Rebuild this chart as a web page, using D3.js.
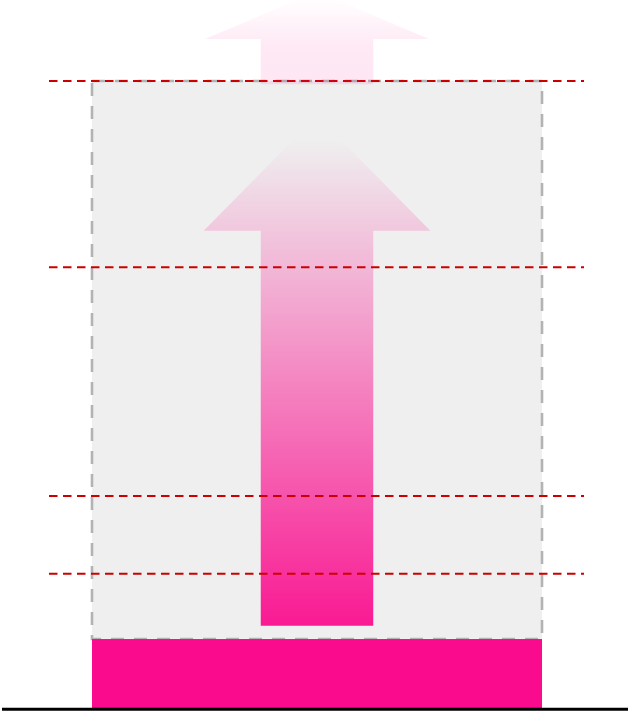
<!DOCTYPE html>
<html>
<head>
<meta charset="utf-8">
<script src="https://cdn.jsdelivr.net/npm/d3@7"></script>
<style>
  html, body { margin: 0; padding: 0; background: #ffffff; }
  svg { display: block; }
</style>
</head>
<body>
<div id="chart"></div>
<script>
// ---- data ----
const categories = ["Current"];
const baseValues = [11.0];            // solid bar
const rangeTop = [100];               // dashed grey range box top
const arrowStart = [13.1];            // main arrow shaft bottom
const arrowHeadBase = [76.1];         // main arrow head base
const arrowEnd = [90.6];              // main arrow top
const ghostStart = [99.5];            // faint arrow shaft bottom
const ghostHeadBase = [106.7];        // faint arrow head base
const ghostEnd = [113.2];             // faint arrow top
const referenceLevels = [100, 70.3, 33.8, 21.4];

// ---- layout ----
const W = 628, H = 711;
const svg = d3.select("#chart").append("svg").attr("width", W).attr("height", H);

const y = d3.scaleLinear().domain([0, 100]).range([708, 81]);
const x = d3.scaleBand().domain(categories).range([92, 542]).padding(0);
const bw = x.bandwidth();

const defs = svg.append("defs");
const g1 = defs.append("linearGradient").attr("id", "arrowGrad")
  .attr("x1", 0).attr("y1", 1).attr("x2", 0).attr("y2", 0);
g1.append("stop").attr("offset", "0%").attr("stop-color", "#fa0a8c").attr("stop-opacity", 0.93);
g1.append("stop").attr("offset", "100%").attr("stop-color", "#fa0a8c").attr("stop-opacity", 0.0);

const g2 = defs.append("linearGradient").attr("id", "ghostGrad")
  .attr("x1", 0).attr("y1", 1).attr("x2", 0).attr("y2", 0);
g2.append("stop").attr("offset", "0%").attr("stop-color", "#fa0a8c").attr("stop-opacity", 0.1);
g2.append("stop").attr("offset", "45%").attr("stop-color", "#fa0a8c").attr("stop-opacity", 0.09);
g2.append("stop").attr("offset", "100%").attr("stop-color", "#fa0a8c").attr("stop-opacity", 0.0);

// range box
svg.selectAll("rect.range").data(categories).join("rect")
  .attr("class", "range")
  .attr("x", d => x(d))
  .attr("y", (d, i) => y(rangeTop[i]))
  .attr("width", bw)
  .attr("height", (d, i) => y(baseValues[i]) - y(rangeTop[i]))
  .attr("fill", "#efefef")
  .attr("stroke", "#b3b3b3")
  .attr("stroke-width", 2.6)
  .attr("stroke-dasharray", "13,10");

// base bar
svg.selectAll("rect.bar").data(categories).join("rect")
  .attr("class", "bar")
  .attr("x", d => x(d))
  .attr("y", (d, i) => y(baseValues[i]))
  .attr("width", bw)
  .attr("height", (d, i) => y(0) - y(baseValues[i]))
  .attr("fill", "#fa0a8c");

// arrow path builder
function arrowPath(cx, yStart, yHeadBase, yTop, shaftHalf, headHalf, topHalf) {
  return [
    [cx - shaftHalf, yStart],
    [cx - shaftHalf, yHeadBase],
    [cx - headHalf, yHeadBase],
    [cx - topHalf, yTop],
    [cx + topHalf, yTop],
    [cx + headHalf, yHeadBase],
    [cx + shaftHalf, yHeadBase],
    [cx + shaftHalf, yStart]
  ];
}
const line = d3.line();

// main arrow
svg.selectAll("path.arrow").data(categories).join("path")
  .attr("class", "arrow")
  .attr("d", (d, i) => {
    const cx = x(d) + bw / 2;
    return line(arrowPath(cx, y(arrowStart[i]), y(arrowHeadBase[i]), y(arrowEnd[i]),
      bw * 0.125, bw * 0.252, bw * 0.053)) + "Z";
  })
  .attr("fill", "url(#arrowGrad)");

// reference lines
svg.selectAll("line.ref").data(referenceLevels).join("line")
  .attr("class", "ref")
  .attr("x1", 49).attr("x2", 584)
  .attr("y1", d => y(d)).attr("y2", d => y(d))
  .attr("stroke", "#cc0000")
  .attr("stroke-width", 2)
  .attr("stroke-dasharray", "8.5,5.5");

// ghost arrow
svg.selectAll("path.ghost").data(categories).join("path")
  .attr("class", "ghost")
  .attr("d", (d, i) => {
    const cx = x(d) + bw / 2;
    return line(arrowPath(cx, y(ghostStart[i]), y(ghostHeadBase[i]), y(ghostEnd[i]),
      bw * 0.125, bw * 0.249, bw * 0.035)) + "Z";
  })
  .attr("fill", "url(#ghostGrad)");

// baseline
svg.append("line")
  .attr("x1", 2).attr("x2", W)
  .attr("y1", y(0) + 1.3).attr("y2", y(0) + 1.3)
  .attr("stroke", "#000").attr("stroke-width", 3);
</script>
</body>
</html>
